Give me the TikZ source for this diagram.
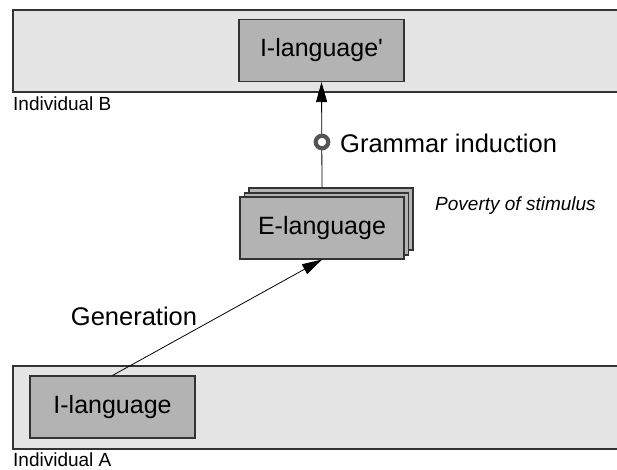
\documentclass[tikz,border=0pt]{standalone}
\usepackage{fontspec}
\setmainfont{Liberation Sans}
\usetikzlibrary{arrows.meta}
\definecolor{bandfill}{HTML}{E5E5E5}
\definecolor{boxfill}{HTML}{B3B3B3}
\definecolor{edge}{HTML}{333333}
\definecolor{ring}{HTML}{555555}
\begin{document}
\begin{tikzpicture}[x=1pt,y=-1pt,
  band/.style={draw=edge, fill=bandfill, line width=1.3pt},
  langbox/.style={draw=edge, fill=boxfill, line width=1.1pt, inner sep=0pt,
    minimum width=165pt, minimum height=62pt,
    font=\fontsize{25}{30}\selectfont},
  bigtext/.style={inner sep=0pt, font=\fontsize{25.5}{30}\selectfont},
  smalltext/.style={inner sep=0pt, font=\fontsize{19}{23}\selectfont},
  link/.style={line width=0.8pt, black},
  tip/.style={-{Triangle[length=20pt, width=11pt]}}
]
\useasboundingbox (0,0) rectangle (617,470);
\clip (0,0) rectangle (617,470);

% individual B
\draw[band] (13,10) rectangle (630,92);
\node[smalltext, anchor=west] (labB) at (13,104) {Individual B};
\node[langbox] (ilp) at (321.5,50.5) {I-language\textquotesingle};

% individual A
\draw[band] (13,366) rectangle (630,449);
\node[smalltext, anchor=west] (labA) at (13,460) {Individual A};
\node[langbox] (il) at (112.5,407) {I-language};

% stacked E-language sheets
\node[langbox, minimum width=164pt] (el3) at (331,219) {};
\node[langbox, minimum width=164pt] (el2) at (326.5,224) {};
\node[langbox, minimum width=164pt] (el) at (322,228) {E-language};
\node[smalltext, anchor=west, font=\fontsize{19}{23}\selectfont\itshape] (pov) at (435,206) {Poverty of stimulus};

% connectors
\draw[link, tip] (il.north) -- (el.south);
\node[bigtext] (gen) at (134,316) {Generation};

\coordinate (elTop) at (el3.north -| el);
\draw[link, tip] (elTop) -- (ilp.south);
\node[circle, draw=ring, fill=white, line width=4.2pt, minimum size=12.5pt, inner sep=0pt] (gi) at (322,142) {};
\node[bigtext, anchor=west] (gilab) at (340,143) {Grammar induction};
\end{tikzpicture}
\end{document}
